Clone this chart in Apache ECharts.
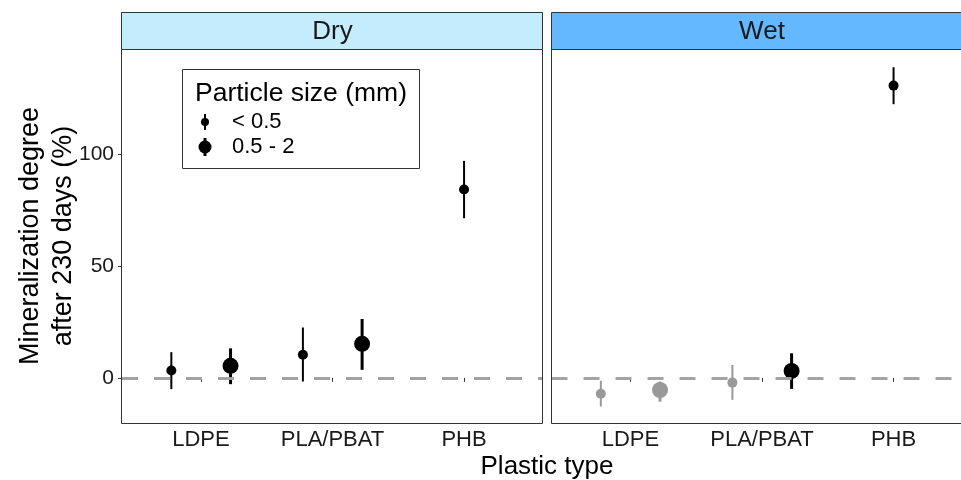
<!DOCTYPE html>
<html>
<head>
<meta charset="utf-8">
<script src="https://cdn.jsdelivr.net/npm/echarts@6/dist/echarts.min.js"></script>
<style>html,body{margin:0;padding:0;background:#fff}#c{width:961px;height:480px}</style>
</head>
<body>
<div id="c"></div>
<script>
// ---- data ----
const categories = ['LDPE', 'PLA/PBAT', 'PHB'];
const panels = ['Dry', 'Wet'];
const sizeLabels = ['< 0.5', '0.5 - 2'];
const yTicks = [0, 50, 100];

const drySmallMean = [3.3, 10.3, 84.1];
const drySmallLow  = [-5.0, -1.6, 71.3];
const drySmallHigh = [11.5, 22.5, 96.9];
const drySmallSig  = [true, true, true];
const dryLargeMean = [5.4, 15.2, null];
const dryLargeLow  = [-2.8, 3.6, null];
const dryLargeHigh = [13.2, 26.3, null];
const dryLargeSig  = [true, true, null];

const wetSmallMean = [-7.1, -2.1, 130.5];
const wetSmallLow  = [-12.8, -9.8, 122.2];
const wetSmallHigh = [-1.3, 5.8, 138.7];
const wetSmallSig  = [false, false, true];
const wetLargeMean = [-5.4, 3.1, null];
const wetLargeLow  = [-10.6, -4.9, null];
const wetLargeHigh = [-1.6, 11.0, null];
const wetLargeSig  = [false, true, null];

// ---- styles ----
const FONT = 'Liberation Sans, Arial, sans-serif';
const SIG = '#000000', NS = '#999999';
const DODGE = 0.225;
const GRID_TOP = 50, GRID_H = 373.6, GRID_W = 421;
const gridLefts = [122, 551.5];

function pts(mean, sig, other, dir) {
  return mean.map((m, i) => m == null ? null : {
    value: [i + 1 + (other[i] == null ? 0 : dir * DODGE), m],
    itemStyle: { color: sig[i] ? SIG : NS }
  }).filter(d => d);
}
function bars(mean, lo, hi, sig, other, dir) {
  return mean.map((m, i) => m == null ? null : {
    value: [i + 1 + (other[i] == null ? 0 : dir * DODGE), lo[i], hi[i]],
    col: sig[i] ? SIG : NS
  }).filter(d => d);
}
function errSeries(data, idx, lw) {
  return {
    type: 'custom', xAxisIndex: idx, yAxisIndex: idx, z: 3,
    data: data.map(d => ({ value: d.value })),
    renderItem: function (params, api) {
      const x = api.value(0);
      const p1 = api.coord([x, api.value(1)]);
      const p2 = api.coord([x, api.value(2)]);
      const col = data[params.dataIndex].col;
      return { type: 'line', shape: { x1: p1[0], y1: p1[1], x2: p2[0], y2: p2[1] },
               style: { stroke: col, lineWidth: lw } };
    }
  };
}

const sets = [
  { small: [drySmallMean, drySmallLow, drySmallHigh, drySmallSig], large: [dryLargeMean, dryLargeLow, dryLargeHigh, dryLargeSig] },
  { small: [wetSmallMean, wetSmallLow, wetSmallHigh, wetSmallSig], large: [wetLargeMean, wetLargeLow, wetLargeHigh, wetLargeSig] }
];

const grids = [], xAxes = [], yAxes = [], series = [];
gridLefts.forEach((left, idx) => {
  grids.push({ left: left, top: GRID_TOP, width: GRID_W, height: GRID_H, show: false,
               containLabel: false, outerBoundsMode: 'none' });
  xAxes.push({ type: 'value', gridIndex: idx, min: 0.4, max: 3.6,
    splitLine: { show: false }, axisLine: { show: false },
    axisTick: { show: true, length: 4, lineStyle: { color: '#333', width: 1 }, customValues: [1, 2, 3] },
    axisLabel: { show: true, customValues: [1, 2, 3], formatter: v => categories[Math.round(v) - 1],
                 color: '#1a1a1a', fontSize: 22, fontFamily: FONT, margin: 5 } });
  yAxes.push({ type: 'value', gridIndex: idx, min: -20.4, max: 146.4,
    splitLine: { show: false }, axisLine: { show: false },
    axisTick: { show: idx === 0, length: 4, lineStyle: { color: '#333', width: 1 }, customValues: yTicks },
    axisLabel: { show: idx === 0, customValues: yTicks, color: '#1a1a1a', fontSize: 21, fontFamily: FONT, margin: 8 } });

  const s = sets[idx];
  // zero reference line
  series.push({ type: 'line', xAxisIndex: idx, yAxisIndex: idx, data: [], z: 1, silent: true,
    markLine: { symbol: 'none', silent: true, label: { show: false },
      lineStyle: { color: '#a3a3a3', width: 3, type: [16, 16] },
      data: [{ yAxis: 0 }] } });
  series.push(errSeries(bars(s.small[0], s.small[1], s.small[2], s.small[3], s.large[0], -1), idx, 2));
  series.push(errSeries(bars(s.large[0], s.large[1], s.large[2], s.large[3], s.large[0], 1), idx, 3));
  series.push({ type: 'scatter', name: sizeLabels[0], xAxisIndex: idx, yAxisIndex: idx, z: 4,
    symbol: 'circle', symbolSize: 10, itemStyle: { opacity: 1 },
    data: pts(s.small[0], s.small[3], s.large[0], -1) });
  series.push({ type: 'scatter', name: sizeLabels[1], xAxisIndex: idx, yAxisIndex: idx, z: 4,
    symbol: 'circle', symbolSize: 16, itemStyle: { opacity: 1 },
    data: pts(s.large[0], s.large[3], s.large[0], 1) });
});

const stripColors = ['#C4ECFD', '#63B8FF'];
const graphics = [];
// panel frames
graphics.push({ type: 'rect', shape: { x: 121.5, y: 49.5, width: 421, height: 374 },
  style: { fill: 'none', stroke: '#333', lineWidth: 1 }, z: 9 });
graphics.push({ type: 'polyline', shape: { points: [[975, 49.5], [551.5, 49.5], [551.5, 423.5], [975, 423.5]] },
  style: { fill: 'none', stroke: '#333', lineWidth: 1 }, z: 9 });
gridLefts.forEach((left, idx) => {
  const x0 = idx === 0 ? 121.5 : 551.5;
  graphics.push({ type: 'rect', shape: { x: x0, y: 12.5, width: GRID_W, height: 37 },
    style: { fill: stripColors[idx], stroke: '#333', lineWidth: 1 }, z: 10 });
  graphics.push({ type: 'text', x: left + GRID_W / 2, y: 32,
    style: { text: panels[idx], font: '26px ' + FONT, fill: '#1a1a1a', textAlign: 'center', textVerticalAlign: 'middle' }, z: 11 });
});
// legend
graphics.push({ type: 'rect', shape: { x: 182.5, y: 69.5, width: 237, height: 99 },
  style: { fill: '#fff', stroke: '#333', lineWidth: 1 }, z: 10 });
graphics.push({ type: 'text', x: 195, y: 94, style: { text: 'Particle size (mm)', font: '26.5px ' + FONT, fill: '#000', textVerticalAlign: 'middle' }, z: 11 });
graphics.push({ type: 'line', shape: { x1: 205, y1: 114, x2: 205, y2: 130 }, style: { stroke: '#000', lineWidth: 2 }, z: 11 });
graphics.push({ type: 'circle', shape: { cx: 205, cy: 122, r: 4 }, style: { fill: '#000' }, z: 12 });
graphics.push({ type: 'line', shape: { x1: 205, y1: 138, x2: 205, y2: 156 }, style: { stroke: '#000', lineWidth: 3 }, z: 11 });
graphics.push({ type: 'circle', shape: { cx: 205, cy: 147, r: 6.5 }, style: { fill: '#000' }, z: 12 });
graphics.push({ type: 'text', x: 232, y: 122, style: { text: sizeLabels[0], font: '22px ' + FONT, fill: '#000', textVerticalAlign: 'middle' }, z: 11 });
graphics.push({ type: 'text', x: 232, y: 147, style: { text: sizeLabels[1], font: '22px ' + FONT, fill: '#000', textVerticalAlign: 'middle' }, z: 11 });
// axis titles
graphics.push({ type: 'text', x: 547, y: 467, style: { text: 'Plastic type', font: '26px ' + FONT, fill: '#000', textAlign: 'center', textVerticalAlign: 'middle' }, z: 11 });
graphics.push({ type: 'text', x: 47, y: 236, rotation: Math.PI / 2,
  style: { text: 'Mineralization degree\nafter 230 days (%)', font: '27px ' + FONT, lineHeight: 33, fill: '#000', textAlign: 'center', textVerticalAlign: 'middle' }, z: 11 });

const chart = echarts.init(document.getElementById('c'), null, { renderer: 'canvas' });
chart.setOption({
  animation: false,
  backgroundColor: '#fff',
  grid: grids, xAxis: xAxes, yAxis: yAxes, series: series,
  graphic: { elements: graphics }
});
</script>
</body>
</html>
